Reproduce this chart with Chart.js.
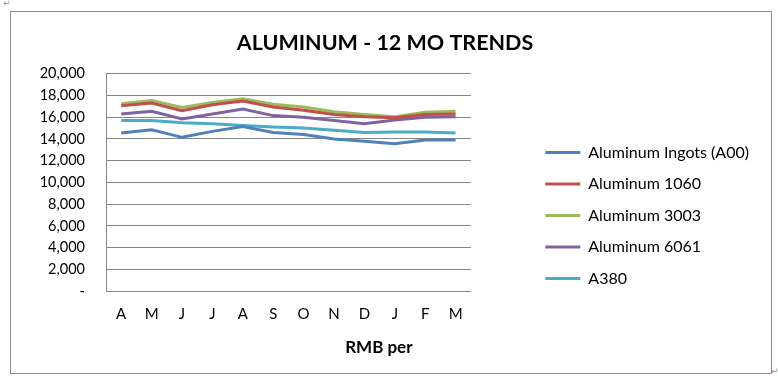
<!DOCTYPE html>
<html>
<head>
<meta charset="utf-8">
<script src="https://cdn.jsdelivr.net/npm/chart.js@4/dist/chart.umd.min.js"></script>
<style>
  html, body { margin: 0; padding: 0; background: #fff; }
  body { width: 778px; height: 381px; position: relative; overflow: hidden; font-family: Lato, "Liberation Sans", sans-serif; }
  #frame { position: absolute; left: 10px; top: 11px; width: 760px; height: 361px; border: 1px solid #8c8c8c; }
  #frame canvas { display: block; }
  .mark { position: absolute; font-size: 9px; color: #9a9a9a; font-family: "DejaVu Sans", sans-serif; }
</style>
</head>
<body>
<span class="mark" style="left:3px; top:-2px;">↵</span>
<div id="frame"><canvas id="c" width="760" height="361"></canvas></div>
<span class="mark" style="left:771px; top:366px;">↵</span>
<script>
const months = ['A', 'M', 'J', 'J', 'A', 'S', 'O', 'N', 'D', 'J', 'F', 'M'];
const ingotsA00 = [14550, 14850, 14150, 14700, 15150, 14600, 14400, 14000, 13800, 13550, 13900, 13900];
const al1060    = [17050, 17300, 16600, 17150, 17500, 16950, 16650, 16250, 16050, 15950, 16250, 16300];
const al3003    = [17250, 17550, 16900, 17350, 17700, 17200, 16950, 16500, 16250, 16050, 16450, 16550];
const al6061    = [16300, 16550, 15850, 16300, 16750, 16150, 16000, 15700, 15400, 15750, 16000, 16050];
const a380      = [15700, 15700, 15500, 15400, 15250, 15100, 15000, 14800, 14600, 14650, 14650, 14550];
const seriesNames = ['Aluminum Ingots (A00)', 'Aluminum 1060', 'Aluminum 3003', 'Aluminum 6061', 'A380'];
const seriesColors = ['#4F81BD', '#C0504D', '#9BBB59', '#8064A2', '#4BACC6'];
const yTicks = [0, 2000, 4000, 6000, 8000, 10000, 12000, 14000, 16000, 18000, 20000];
const chartTitle = 'ALUMINUM - 12 MO TRENDS';
const xAxisTitle = 'RMB per';

const seriesData = [ingotsA00, al1060, al3003, al6061, a380];
const datasets = seriesData.map((d, i) => ({
  label: seriesNames[i],
  data: d,
  borderColor: seriesColors[i],
  backgroundColor: seriesColors[i],
  borderWidth: 3,
  pointRadius: 0,
  tension: 0,
  fill: false
}));

const axisTitlePlugin = {
  id: 'axisTitle',
  afterDraw(chart) {
    const ctx = chart.ctx;
    ctx.save();
    ctx.font = 'bold 17px Lato, "Liberation Sans", sans-serif';
    ctx.fillStyle = '#000';
    ctx.textAlign = 'center';
    ctx.textBaseline = 'middle';
    ctx.fillText(xAxisTitle, chart.width * 0.484, chart.chartArea.bottom + 57);
    ctx.restore();
  }
};

new Chart(document.getElementById('c'), {
  type: 'line',
  data: { labels: months, datasets },
  plugins: [axisTitlePlugin],
  options: {
    responsive: false,
    animation: false,
    events: [],
    layout: { padding: { left: 0, right: 12, top: 4, bottom: 36 } },
    plugins: {
      title: {
        display: true,
        text: chartTitle,
        color: '#000',
        font: { family: 'Lato, "Liberation Sans", sans-serif', size: 21.5, weight: 'bold' },
        padding: { top: 14, bottom: 18 }
      },
      legend: {
        position: 'right',
        align: 'center',
        maxWidth: 400,
        title: {
          display: true,
          text: ' ',
          font: { size: 10 },
          padding: { top: 0, bottom: 66 }
        },
        labels: {
          color: '#000',
          font: { family: 'Lato, "Liberation Sans", sans-serif', size: 16 },
          boxWidth: 35,
          boxHeight: 3,
          padding: 15.5,
          generateLabels(chart) {
            const items = Chart.defaults.plugins.legend.labels.generateLabels(chart);
            items.forEach(it => { it.lineWidth = 0; it.fillStyle = it.strokeStyle; });
            return items;
          }
        }
      },
      tooltip: { enabled: false }
    },
    scales: {
      x: {
        offset: true,
        grid: { display: false, drawTicks: false },
        border: { display: true, color: '#868686', width: 1 },
        ticks: { color: '#000', padding: 14, font: { family: 'Lato, "Liberation Sans", sans-serif', size: 15 }, maxRotation: 0, autoSkip: false }
      },
      y: {
        min: 0,
        max: 20000,
        afterFit(scale) { scale.width = 95; },
        afterBuildTicks(scale) { scale.ticks = yTicks.map(v => ({ value: v })); },
        grid: { color: '#868686', lineWidth: 1, drawTicks: false },
        border: { display: true, color: '#868686', width: 1 },
        ticks: {
          color: '#000',
          padding: 21,
          autoSkip: false,
          font: { family: 'Lato, "Liberation Sans", sans-serif', size: 14.5 },
          callback: v => v === 0 ? '-' : v.toLocaleString('en-US')
        }
      },
      y2: {
        position: 'right',
        display: true,
        afterFit(scale) { scale.width = 59; },
        grid: { display: false, drawTicks: false },
        border: { display: false },
        ticks: { display: false }
      }
    }
  }
});
</script>
</body>
</html>
